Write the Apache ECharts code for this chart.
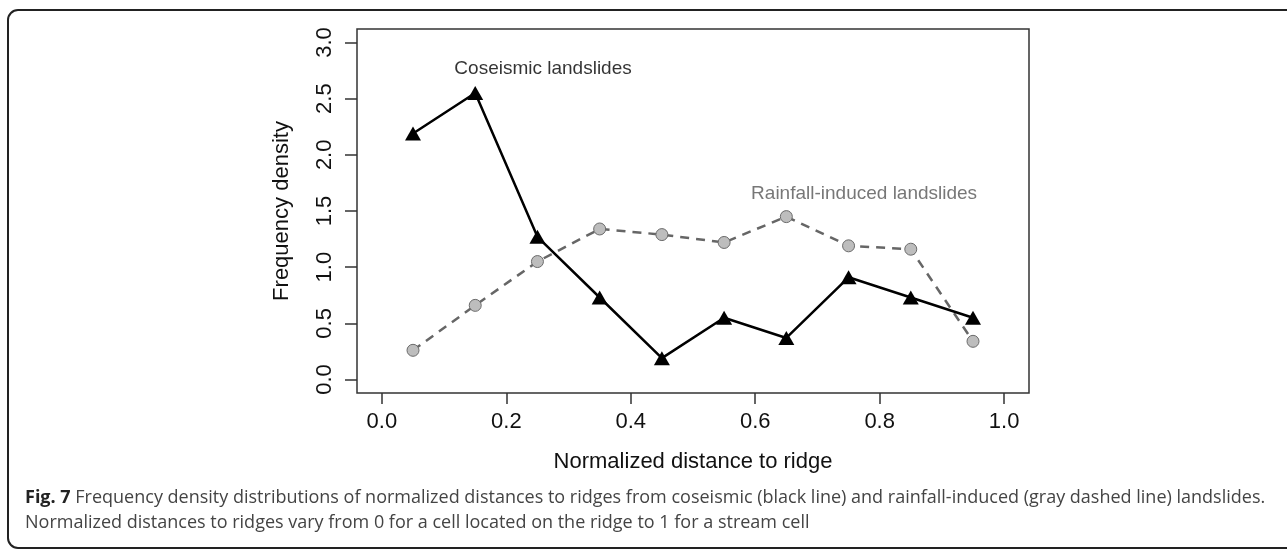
<!DOCTYPE html>
<html>
<head>
<meta charset="utf-8">
<script src="https://cdn.jsdelivr.net/npm/echarts@6.0.0/dist/echarts.min.js"></script>
<style>
  html, body { margin: 0; padding: 0; background: #fff; }
  #chart { width: 1287px; height: 550px; }
</style>
</head>
<body>
<div id="chart"></div>
<script>
// normalized distance to ridge (bin centres)
const distance = [0.05, 0.15, 0.25, 0.35, 0.45, 0.55, 0.65, 0.75, 0.85, 0.95];
const coseismic = [2.19, 2.55, 1.27, 0.73, 0.19, 0.55, 0.37, 0.91, 0.73, 0.55];
const rainfall = [0.26, 0.66, 1.05, 1.34, 1.29, 1.22, 1.45, 1.19, 1.16, 0.34];
const xTicks = [0, 0.2, 0.4, 0.6, 0.8, 1.0];
const yTicks = [0, 0.5, 1.0, 1.5, 2.0, 2.5, 3.0];
const annotations = [
  { name: "Coseismic landslides", x: 0.259, y: 2.77, color: "#000" },
  { name: "Rainfall-induced landslides", x: 0.775, y: 1.655, color: "#555" }
];
const captionBold = "Fig. 7";
const captionLine1 = " Frequency density distributions of normalized distances to ridges from coseismic (black line) and rainfall-induced (gray dashed line) landslides.";
const captionLine2 = "Normalized distances to ridges vary from 0 for a cell located on the ridge to 1 for a stream cell";

const chart = echarts.init(document.getElementById("chart"));
const font = "Liberation Sans, Arial, sans-serif";

const option = {
  animation: false,
  textStyle: { fontFamily: font },
  grid: {
    left: 357,
    right: 258,
    top: 29,
    bottom: 157,
    show: true,
    borderColor: "#333",
    borderWidth: 1.5,
    backgroundColor: "transparent"
  },
  xAxis: {
    type: "value",
    min: -0.04,
    max: 1.04,
    name: "Normalized distance to ridge",
    nameLocation: "middle",
    nameGap: 58,
    nameTextStyle: { fontSize: 22, color: "#111", fontFamily: font },
    splitLine: { show: false },
    axisLine: { show: false, onZero: false },
    axisTick: {
      show: true,
      length: 11,
      customValues: xTicks,
      lineStyle: { color: "#333", width: 1.5 }
    },
    axisLabel: {
      customValues: xTicks,
      fontSize: 22,
      color: "#111",
      margin: 18,
      formatter: (v) => v.toFixed(1)
    }
  },
  yAxis: {
    type: "value",
    min: -0.12,
    max: 3.12,
    name: "Frequency density",
    nameLocation: "middle",
    nameGap: 64,
    nameRotate: 90,
    nameTextStyle: { fontSize: 22, color: "#111", fontFamily: font },
    splitLine: { show: false },
    axisLine: { show: false, onZero: false },
    axisTick: {
      show: true,
      length: 12,
      customValues: yTicks,
      lineStyle: { color: "#333", width: 1.5 }
    },
    axisLabel: {
      customValues: yTicks,
      fontSize: 22,
      color: "#111",
      rotate: 90,
      margin: 21,
      formatter: (v) => v.toFixed(1)
    }
  },
  series: [
    {
      name: "Rainfall-induced",
      type: "line",
      data: distance.map((d, i) => [d, rainfall[i]]),
      symbol: "circle",
      symbolSize: 12,
      showAllSymbol: true,
      lineStyle: { color: "#666", width: 2.5, type: [9, 7] },
      itemStyle: { color: "#bdbdbd", borderColor: "#6a6a6a", borderWidth: 1 },
      z: 2
    },
    {
      name: "Coseismic",
      type: "line",
      data: distance.map((d, i) => [d, coseismic[i]]),
      symbol: "triangle",
      symbolSize: [16, 14],
      showAllSymbol: true,
      lineStyle: { color: "#000", width: 2.5 },
      itemStyle: { color: "#000" },
      z: 3
    },
    {
      name: "labels",
      type: "scatter",
      symbolSize: 0,
      data: annotations.map((a) => ({
        value: [a.x, a.y],
        label: {
          show: true,
          position: "inside",
          formatter: a.name,
          fontSize: 19,
          color: a.color,
          textBorderWidth: 0,
          fontFamily: font
        }
      })),
      silent: true,
      z: 4
    }
  ],
  graphic: [
    {
      type: "rect",
      shape: { x: 8, y: 10, width: 1300, height: 538, r: 10 },
      style: { fill: "none", stroke: "#222", lineWidth: 2 },
      silent: true
    },
    {
      type: "text",
      left: 25,
      top: 489,
      style: {
        text: "{b|" + captionBold + "}{n|" + captionLine1 + "}",
        rich: {
          b: { fontFamily: "Open Sans", fontWeight: "bold", fontSize: 18, fill: "#222" },
          n: { fontFamily: "Open Sans", fontSize: 18, fill: "#444" }
        }
      }
    },
    {
      type: "text",
      left: 25,
      top: 514,
      style: {
        text: captionLine2,
        fontFamily: "Open Sans",
        fontSize: 18,
        fill: "#444"
      }
    }
  ]
};

chart.setOption(option);
</script>
</body>
</html>
